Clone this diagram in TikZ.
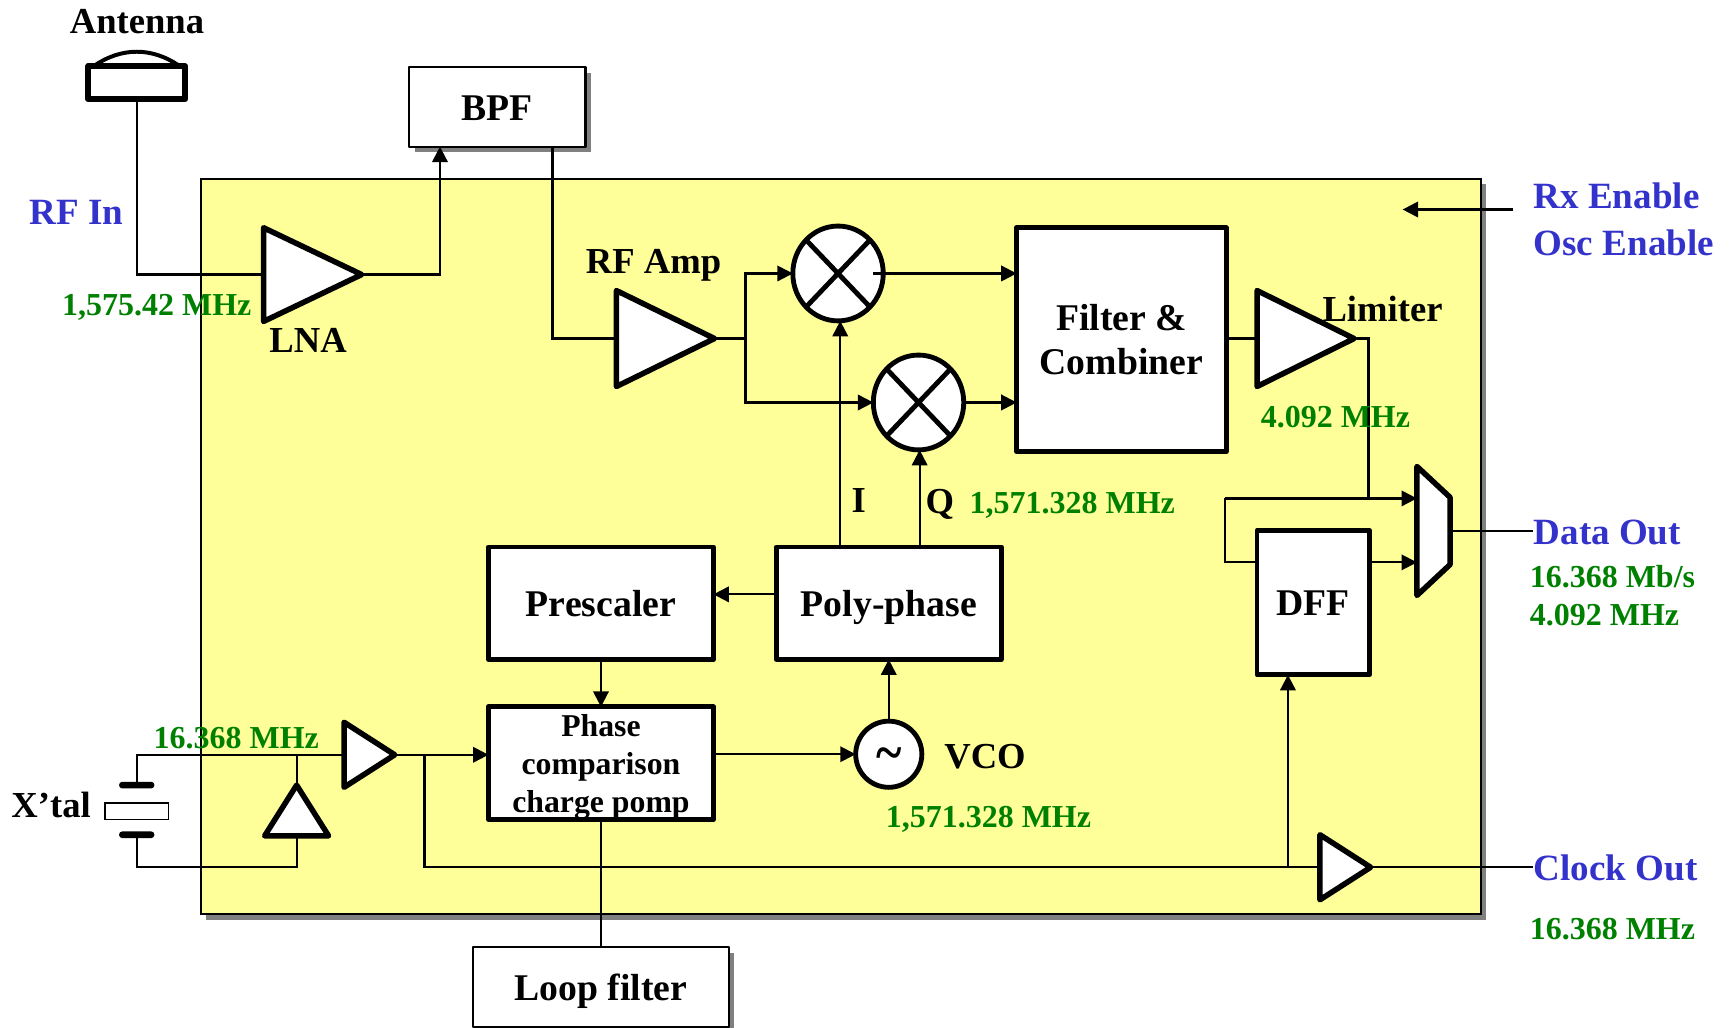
\documentclass[tikz,border=0pt]{standalone}
\usepackage{fontspec}
\setmainfont{Liberation Serif}
\usetikzlibrary{positioning}
\usetikzlibrary{shapes.geometric}
\usetikzlibrary{arrows.meta}
\usetikzlibrary{shadows}

\definecolor{chipyellow}{RGB}{255,255,153}
\definecolor{shadowgray}{RGB}{128,128,128}
\definecolor{freqgreen}{RGB}{0,128,0}
\definecolor{portblue}{RGB}{51,51,204}

\tikzset{
  wire/.style={line width=1pt},
  conn/.style={line width=1pt, -{Triangle[length=7pt,width=7pt]}},
  block/.style={draw, fill=white, rectangle, line width=2.2pt, outer sep=0pt, inner sep=0pt, align=center,
    font=\fontsize{17.1}{20}\selectfont\bfseries, line join=round},
  onerow/.style={text height=12pt, text depth=0pt},
  extbox/.style={block, onerow, line width=1pt, drop shadow={shadow xshift=2.5pt, shadow yshift=-2.5pt, fill=shadowgray, opacity=1}},
  ampl/.style={draw, fill=white, isosceles triangle, isosceles triangle stretches, inner sep=0pt, outer sep=0pt,
    line width=2.5pt, line join=round},
  mixer/.style={draw, fill=white, ellipse, inner sep=0pt, outer sep=0pt, line width=2.2pt,
    minimum width=41pt, minimum height=43pt,
    path picture={\draw[line width=2.2pt] (path picture bounding box.north west) -- (path picture bounding box.south east)
      (path picture bounding box.north east) -- (path picture bounding box.south west);}},
  xplate/.style={fill=black, rectangle, rounded corners=1.4pt, inner sep=0pt, outer sep=0pt, minimum width=16pt, minimum height=3pt},
  lbl/.style={font=\fontsize{16.6}{20}\selectfont\bfseries, inner sep=0pt, anchor=west},
  freq/.style={font=\fontsize{14.5}{17.5}\selectfont\bfseries, text=freqgreen, inner sep=0pt, anchor=west},
  port/.style={font=\fontsize{16.8}{20}\selectfont\bfseries, text=portblue, inner sep=0pt, anchor=west}
}

\begin{document}
\begin{tikzpicture}[x=0.5pt, y=-0.5pt]
    \useasboundingbox (0,0) rectangle (1568,932);

    % Chip
    \node[draw, fill=chipyellow, rectangle, line width=1pt, outer sep=0pt, inner sep=0pt, minimum width=580.5pt, minimum height=333.5pt,
      drop shadow={shadow xshift=2.5pt, shadow yshift=-2.5pt, fill=shadowgray, opacity=1}] (chip) at (762.5,495.5) {};

    % Blocks
    \node[block, minimum width=95pt, minimum height=101.5pt] (filter) at (1017,308) {Filter \&\\Combiner};
    \node[block, onerow, minimum width=102pt, minimum height=51pt] (poly) at (806,547) {Poly-phase};
    \node[block, onerow, minimum width=102pt, minimum height=51pt, left=28.5pt of poly] (pres) {Prescaler};
    \node[block, minimum width=102pt, minimum height=51pt, below=21.5pt of pres, text depth=0pt, font=\fontsize{14.4}{17.25}\selectfont\bfseries] (phase) {Phase\\comparison\\charge pomp};
    \node[block, onerow, minimum width=51pt, minimum height=65.5pt] (dff) at (1191,546.5) {DFF};
    \node[extbox, minimum width=80pt, minimum height=36pt] (bpf) at (451,97) {BPF};
    \node[extbox, minimum width=116pt, minimum height=36pt] (loop) at (545,895) {Loop filter};

    % Amplifiers
    \node[ampl, minimum height=44.5pt, minimum width=42.5pt, anchor=west] (lna) at (239,249) {};
    \node[ampl, minimum height=44.5pt, minimum width=43.5pt, anchor=west] (rfamp) at (559,307) {};
    \node[ampl, minimum height=44pt, minimum width=43.5pt, anchor=west] (lim) at (1140,307) {};
    \node[ampl, minimum height=23pt, minimum width=29.5pt, anchor=west] (xbuf) at (312,684.5) {};
    \node[ampl, minimum height=23pt, minimum width=29.5pt, anchor=west] (clkbuf) at (1197,786.5) {};
    \node[ampl, shape border rotate=90, minimum width=29pt, minimum height=23pt, anchor=south] (osc) at (269,758) {};

    % Mixers and VCO
    \node[mixer] (mix1) at (760,248) {};
    \node[mixer] (mix2) at (833,365) {};
    \node[draw, fill=white, circle, line width=2.2pt, inner sep=0pt, outer sep=0pt, minimum size=30pt, text height=0pt, text depth=0pt,
      font=\fontsize{17}{17}\selectfont\bfseries] (vco) at (806,684) {\raisebox{-8pt}{\scalebox{1.3}[1.5]{\textasciitilde}}};

    % Mux
    \node[inner sep=0pt, outer sep=0pt, minimum width=15pt, minimum height=58.5pt] (mux) at (1300,481.5) {};
    \draw[fill=white, line width=2.5pt, line join=round] (mux.north west) -- ([yshift=-14pt]mux.north east)
      -- ([yshift=14pt]mux.south east) -- (mux.south west) -- cycle;

    % Antenna and crystal
    \node[draw, fill=white, rectangle, line width=2.5pt, line join=round, inner sep=0pt, outer sep=0pt, minimum width=44pt, minimum height=15pt] (ant) at (124,75) {};
    \draw[line width=1.8pt] ([xshift=2.5pt]ant.north west) to[bend left=35] ([xshift=-2.5pt]ant.north east);
    \node[xplate] (xtop) at (124,712) {};
    \node[xplate] (xbot) at (124,757) {};
    \node[draw, fill=white, rectangle, line width=0.7pt, inner sep=0pt, outer sep=0pt, minimum width=29pt, minimum height=7.5pt] (xbody) at (124,735.5) {};

    % Joints
    \coordinate (rfj) at (676,307);
    \coordinate (xlow) at (124,786);
    \coordinate (clkj) at (385,684.5);
    \coordinate (limj) at (1241,452);
    \coordinate (dffj) at (1111,452);
    \coordinate (polyi) at (762,496);
    \coordinate (polyq) at (834,496);
    \coordinate (rxfrom) at (1372,190);
    \coordinate (rxto) at (1272,190);
    \coordinate (dataend) at (1390,481.5);
    \coordinate (clkend) at (1390,786.5);
    \coordinate (bpfin) at (399,133);
    \coordinate (bpfout) at (501,133);
    \coordinate (dffin) at (1139,510);
    \coordinate (dffout) at (1242,510);
    \coordinate (polyout) at (704,539);
    \coordinate (clkdff) at (1168,612);

    % Edges
    \draw[wire] (ant.south) |- (lna.west);
    \draw[conn] (lna.apex) -| (bpfin);
    \draw[wire] (bpfout) |- (rfamp.west);
    \draw[wire] (rfamp.apex) -- (rfj);
    \draw[conn] (rfj) |- (mix1.west);
    \draw[conn] (rfj) |- (mix2.west);
    \draw[conn] ([xshift=-4.5pt]mix1.east) -- (filter.west |- mix1.east);
    \draw[conn] ([xshift=1pt]mix2.east) -- (filter.west |- mix2.east);
    \draw[wire] (filter.east |- lim.west) -- (lim.west);
    \draw[wire] (lim.apex) -| (limj);
    \draw[conn] (dffj) -- (mux.west |- dffj);
    \draw[wire] (dffj) |- (dffin);
    \draw[conn] (dffout) -- (mux.west |- dffout);
    \draw[wire] (mux.east) -- (dataend);
    \draw[conn] (rxfrom) -- (rxto);
    \draw[conn] (polyi) -- (polyi |- mix1.south);
    \draw[conn] (polyq) -- (polyq |- mix2.south);
    \draw[conn] (polyout) -- (pres.east |- polyout);
    \draw[conn] (pres.south) -- (phase.north);
    \draw[conn] (phase.east |- vco.west) -- (vco.west);
    \draw[conn] (vco.north) -- (poly.south);
    \draw[wire] (phase.south) -- (loop.north -| phase.south);
    \draw[wire] (xtop.north) |- (xbuf.west);
    \draw[wire] (xbot.south) -- (xlow) -| (osc.south);
    \draw[wire] (osc.apex) -- (osc.apex |- xbuf.west);
    \draw[conn] (xbuf.apex) -- (phase.west |- xbuf.apex);
    \draw[wire] (clkj) |- (clkbuf.west);
    \draw[conn] (clkdff |- clkbuf.west) -- (clkdff);
    \draw[wire] (clkbuf.apex) -- (clkend);

    % Labels
    \node[lbl] (antl) at (63,20) {Antenna};
    \node[port] (rfin) at (26.5,193) {RF In};
    \node[freq] (ffive) at (56,279) {1,575.42 MHz};
    \node[lbl] (lnal) at (244,309) {LNA};
    \node[lbl] (rfl) at (531,241) {RF Amp};
    \node[lbl] (liml) at (1199,280) {Limiter};
    \node[freq] (ffour) at (1143,378) {4.092 MHz};
    \node[lbl] (il) at (772,454) {I};
    \node[lbl] (ql) at (839,457) {Q};
    \node[freq] (fmix) at (879,458.5) {1,571.328 MHz};
    \node[lbl] (vcol) at (856,686) {VCO};
    \node[freq] (fvco) at (803,743) {1,571.328 MHz};
    \node[freq] (fxtal) at (139,669) {16.368 MHz};
    \node[lbl] (xl) at (10,730) {X’tal};
    \node[port] (rxl) at (1390.5,178) {Rx Enable};
    \node[port] (oscl) at (1390.5,220) {Osc Enable};
    \node[port] (datal) at (1390.5,483) {Data Out};
    \node[freq] (fdata) at (1387,523) {16.368 Mb/s};
    \node[freq] (fdatb) at (1387,558) {4.092 MHz};
    \node[port] (clkl) at (1390.5,787) {Clock Out};
    \node[freq] (fclk) at (1387,843) {16.368 MHz};
\end{tikzpicture}
\end{document}
